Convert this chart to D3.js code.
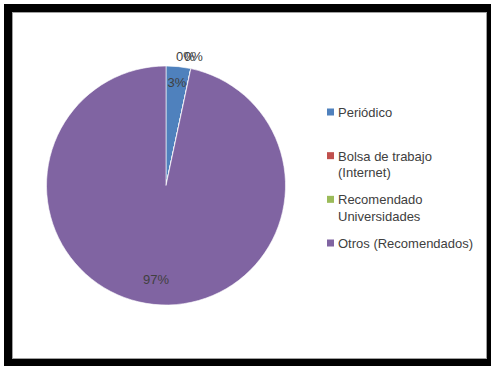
<!DOCTYPE html>
<html>
<head>
<meta charset="utf-8">
<script src="https://cdn.jsdelivr.net/npm/d3@7"></script>
<style>
  html, body { margin: 0; padding: 0; background: #fff; }
  svg { display: block; }
  text { font-family: "Liberation Sans", Arial, sans-serif; fill: #404040; }
</style>
</head>
<body>
<svg id="chart" width="491" height="366"></svg>
<script>
// Survey responses by source
const categories = ["Periódico", "Bolsa de trabajo (Internet)", "Recomendado Universidades", "Otros (Recomendados)"];
const counts = [1, 0, 0, 29];
const colors = ["#4F81BD", "#C0504D", "#9BBB59", "#8064A2"];

const W = 491, H = 366;
const svg = d3.select("#chart");

// Outer black frame and inner chart area
svg.append("rect").attr("x", 4).attr("y", 4).attr("width", W - 4).attr("height", H - 4).attr("fill", "#000");
svg.append("rect").attr("x", 12.5).attr("y", 12.5).attr("width", 474).attr("height", 346)
  .attr("fill", "#fff").attr("stroke", "#a0a0a0").attr("stroke-width", 1);

const cx = 166, cy = 185.5, R = 119.5;
const total = d3.sum(counts);
const data = categories.map((c, i) => ({ cat: c, value: counts[i], color: colors[i] }));

const pie = d3.pie().value(d => d.value).sort(null);
const arcs = pie(data);
const arc = d3.arc().innerRadius(0).outerRadius(R);

const g = svg.append("g").attr("transform", `translate(${cx},${cy})`);
g.selectAll("path.slice").data(arcs).join("path")
  .attr("class", "slice")
  .attr("d", arc)
  .attr("fill", d => d.data.color)
  .attr("stroke", "#fff").attr("stroke-width", 0.6);

// Percentage labels: inside for visible slices, just outside the rim for empty ones
const pct = d => Math.round(d.data.value / total * 100) + "%";
const inner = d3.arc().innerRadius(104).outerRadius(104);
const inner97 = d3.arc().innerRadius(95).outerRadius(95);
const outer = d3.arc().innerRadius(R + 12).outerRadius(R + 12);
let zeroIdx = 0;
const zeroCount = arcs.filter(a => a.data.value === 0).length;
arcs.forEach(a => {
  let p, dx = 0;
  if (a.data.value === 0) {
    p = outer.centroid(a);
    dx = -8 * (zeroCount - 1 - zeroIdx);
    zeroIdx++;
  } else if (a.endAngle - a.startAngle > Math.PI) {
    p = inner97.centroid(a);
  } else {
    p = inner.centroid(a);
  }
  g.append("text")
    .attr("x", p[0] + dx).attr("y", p[1])
    .attr("text-anchor", "middle").attr("dominant-baseline", "central")
    .attr("font-size", 13)
    .text(pct(a));
});

// Legend
const ly = d3.scalePoint().domain(categories).range([112, 243]);
const lineH = 16.7;
const maxW = 140;
const legend = svg.append("g");
categories.forEach((c, i) => {
  const y = ly(c);
  legend.append("rect").attr("x", 327).attr("y", y - 3.5).attr("width", 7).attr("height", 7).attr("fill", colors[i]);
  const t = legend.append("text").attr("x", 338).attr("y", y)
    .attr("dominant-baseline", "central").attr("font-size", 13);
  // word wrap
  const words = c.split(" ");
  let line = [], lineNo = 0;
  let ts = t.append("tspan").attr("x", 338).attr("y", y);
  words.forEach(w => {
    line.push(w);
    ts.text(line.join(" "));
    if (ts.node().getComputedTextLength() > maxW && line.length > 1) {
      line.pop();
      ts.text(line.join(" "));
      line = [w];
      lineNo++;
      ts = t.append("tspan").attr("x", 338).attr("y", y + lineNo * lineH).text(w);
    }
  });
});
</script>
</body>
</html>
